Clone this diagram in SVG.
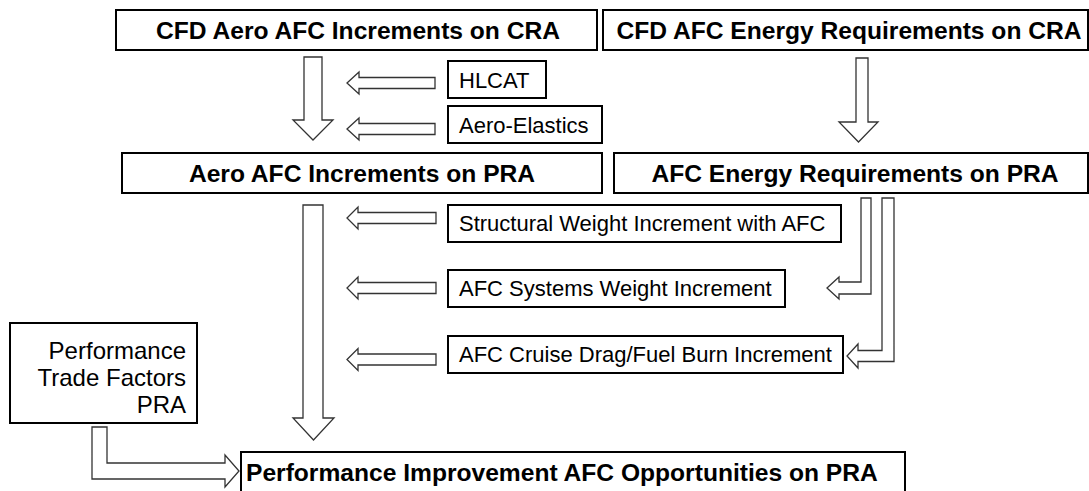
<svg xmlns="http://www.w3.org/2000/svg" width="1089" height="491" viewBox="0 0 1089 491">
<style>
.box{fill:#fff;stroke:#000;stroke-width:2}
.t{font-family:"Liberation Sans",Arial,sans-serif;fill:#000}
.b{font-weight:bold;font-size:24.6px;text-anchor:middle}
.r{font-size:22px}
.p{font-size:24px;text-anchor:end}
.arr{fill:#fff;stroke:#333;stroke-width:1.3;stroke-linejoin:miter}
</style>
<rect width="1089" height="491" fill="#fff"/>
<g id="connectors">
<path class="arr" d="M304,57 H322 V120 H333 L313,140 L293,120 H304 Z"/>
<path class="arr" d="M856,58 H868 V122 H878 L858.5,142 L839,122 H856 Z"/>
<path class="arr" d="M303,205 H323 V418 H334 L313.5,440 L293,418 H303 Z"/>
<path class="arr" d="M435,77.5 V88.5 H359 V94 L347,83 L359,72 V77.5 Z"/>
<path class="arr" d="M435,123.5 V134.5 H359 V140 L347,129 L359,118 V123.5 Z"/>
<path class="arr" d="M436,212.5 V223.5 H358 V229 L347,218 L358,207 V212.5 Z"/>
<path class="arr" d="M436,282.5 V293.5 H358 V299 L347,288 L358,277 V282.5 Z"/>
<path class="arr" d="M436,354 V365 H358 V370.5 L347,359.5 L358,348.5 V354 Z"/>
<path class="arr" d="M861,198 V282 H839 V277 L827,288 L839,299 V294 H871 V198 Z"/>
<path class="arr" d="M882,198 V350.5 H858 V344 L847,356 L858,368 V361.5 H894 V198 Z"/>
<path class="arr" d="M92,427 V479 H225 V487 L239,471 L225,455 V463 H107 V427 Z"/>
</g>
<g id="cfd-aero-cra">
<rect class="box" x="116" y="10" width="481" height="40"/>
<text class="t b" x="358" y="39">CFD Aero AFC Increments on CRA</text>
</g>
<g id="cfd-energy-cra">
<rect class="box" x="603" y="10" width="485" height="40"/>
<text class="t b" x="849" y="39">CFD AFC Energy Requirements on CRA</text>
</g>
<g id="hlcat">
<rect class="box" x="448" y="61" width="98" height="37"/>
<text class="t r" x="459" y="88">HLCAT</text>
</g>
<g id="aero-elastics">
<rect class="box" x="448" y="106" width="154" height="37"/>
<text class="t r" x="459" y="133">Aero-Elastics</text>
</g>
<g id="aero-pra">
<rect class="box" x="122" y="153" width="480" height="40"/>
<text class="t b" x="362" y="182">Aero AFC Increments on PRA</text>
</g>
<g id="energy-pra">
<rect class="box" x="614" y="153" width="474" height="40"/>
<text class="t b" x="855" y="182">AFC Energy Requirements on PRA</text>
</g>
<g id="structural">
<rect class="box" x="448" y="205" width="393" height="37"/>
<text class="t r" x="459" y="231">Structural Weight Increment with AFC</text>
</g>
<g id="systems">
<rect class="box" x="448" y="270" width="337" height="37"/>
<text class="t r" x="459" y="296">AFC Systems Weight Increment</text>
</g>
<g id="cruise">
<rect class="box" x="448" y="336" width="395" height="37"/>
<text class="t r" x="459" y="362">AFC Cruise Drag/Fuel Burn Increment</text>
</g>
<g id="trade-factors">
<rect class="box" x="10" y="323" width="187" height="100"/>
<text class="t p" x="186" y="359">Performance</text>
<text class="t p" x="186" y="386">Trade Factors</text>
<text class="t p" x="186" y="413">PRA</text>
</g>
<g id="opportunities">
<rect class="box" x="241" y="452" width="664" height="60"/>
<text class="t b" x="246" y="481" style="text-anchor:start">Performance Improvement AFC Opportunities on PRA</text>
</g>
</svg>
